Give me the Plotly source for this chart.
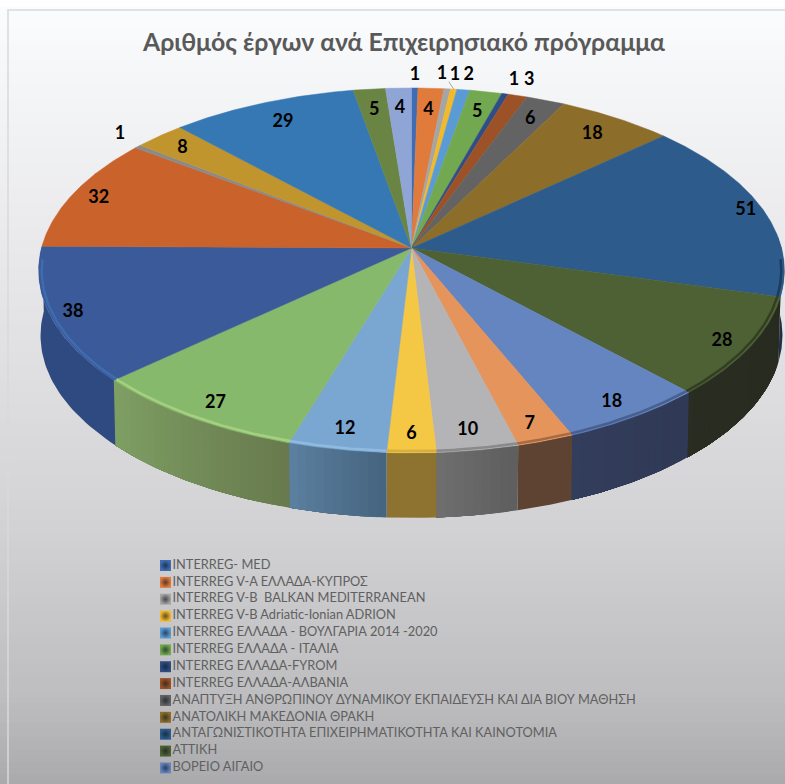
import numpy as np
import plotly.graph_objects as go

# data
values = [1, 4, 1, 1, 2, 5, 1, 3, 6, 18, 51, 28, 18, 7, 10, 6, 12, 27, 38, 32, 1, 8, 29, 5, 4]
legend_names = [
    'INTERREG- MED',
    'INTERREG V-A ΕΛΛΑΔΑ-ΚΥΠΡΟΣ',
    'INTERREG V-B  BALKAN MEDITERRANEAN',
    'INTERREG V-B Adriatic-Ionian ADRION',
    'INTERREG ΕΛΛΑΔΑ - ΒΟΥΛΓΑΡΙΑ 2014 -2020',
    'INTERREG ΕΛΛΑΔΑ - ΙΤΑΛΙΑ',
    'INTERREG ΕΛΛΑΔΑ-FYROM',
    'INTERREG ΕΛΛΑΔΑ-ΑΛΒΑΝΙΑ',
    'ΑΝΑΠΤΥΞΗ ΑΝΘΡΩΠΙΝΟΥ ΔΥΝΑΜΙΚΟΥ ΕΚΠΑΙΔΕΥΣΗ ΚΑΙ ΔΙΑ ΒΙΟΥ ΜΑΘΗΣΗ',
    'ΑΝΑΤΟΛΙΚΗ ΜΑΚΕΔΟΝΙΑ ΘΡΑΚΗ',
    'ΑΝΤΑΓΩΝΙΣΤΙΚΟΤΗΤΑ ΕΠΙΧΕΙΡΗΜΑΤΙΚΟΤΗΤΑ ΚΑΙ ΚΑΙΝΟΤΟΜΙΑ',
    'ΑΤΤΙΚΗ',
    'ΒΟΡΕΙΟ ΑΙΓΑΙΟ',
]
title = 'Αριθμός έργων ανά Επιχειρησιακό πρόγραμμα'

# styles, one per slice
top_colors = ['#3f6db5', '#e07b3c', '#a5a5a5', '#f2b92b', '#5b9bd5', '#72a84f', '#2f4d86', '#9c5226',
              '#636363', '#8c6d2a', '#2d5c8c', '#4e6135', '#6585c0', '#e5945c', '#b4b4b6', '#f4c745',
              '#7aa6d2', '#87b96c', '#3a5a99', '#ca622b', '#8a8a8a', '#c0952d', '#3578b4', '#698443', '#8ea5d5']
# side wall colours as (start, end) going clockwise
side_colors = {10: ('#1f3045', '#1f3045'), 11: ('#282b20', '#2a2d22'), 12: ('#303a56', '#333e5c'),
               13: ('#5e4332', '#5e4332'), 14: ('#5f5f5f', '#6e6e6e'), 15: ('#8e7230', '#8e7230'),
               16: ('#466580', '#5a7f9f'), 17: ('#697b4e', '#7e9f64'), 18: ('#2f4a80', '#2f4a80')}
rim_colors = {10: '#1d3b5a', 11: '#333f22', 12: '#47608f', 13: '#a86a42', 14: '#8a8a8c', 15: '#d8ae3c',
              16: '#8fbbe0', 17: '#a5d080', 18: '#3f6cb0'}
label_r = [1.10, .863, 1.115, 1.115, 1.115, .87, 1.109, 1.123, .875, .874, .955, .923, .917, .914, .904,
           .91, .906, .912, .939, .925, 1.15, .902, .87, .868, .875]
label_dx = [0, 0, -9, -3, 0, 0, 0, 0, 0, 0, 0, 0, -3, -3, -3, 0, 0, 3, 0, 0, 20, 0, 3, 0, 0]

# pie geometry in pixels
cx, cy = 411.5, 248
rx, ry = 370, 179.7
persp = 0.123
depth = 65
W, H = 785, 784


def project(frac, r=1.0):
    # frac is the share of the circle, clockwise from the top
    theta = 2 * np.pi * np.asarray(frac, dtype=float)
    u = r * np.sin(theta)
    v = -r * np.cos(theta)
    w = 1 - persp * v
    return cx + rx * u / w, cy + ry * v / w


def hex2rgb(c):
    return np.array([int(c[i:i + 2], 16) for i in (1, 3, 5)], dtype=float)


def mix(c1, c2, t):
    a = hex2rgb(c1) * (1 - t) + hex2rgb(c2) * t
    return 'rgb(%d,%d,%d)' % tuple(a)


total = sum(values)
cum = np.concatenate([[0], np.cumsum(values)]) / total

fig = go.Figure()

# background gradient
bg_y = np.linspace(10, H, 120)
fig.add_trace(go.Heatmap(
    x=[8, W], y=bg_y, z=[[yy, yy] for yy in bg_y], zmin=10, zmax=H, showscale=False, hoverinfo='skip',
    colorscale=[[0, '#fbfcfd'], [0.07, '#f6f7f9'], [0.31, '#e9e9eb'], [0.67, '#d2d2d4'], [0.89, '#bdbdbf'], [1, '#aaaaac']],
))
fig.add_trace(go.Scatter(x=[8, 8, W], y=[H, 10, 10], mode='lines', line=dict(color='#d9d9d9', width=1.5),
                         hoverinfo='skip'))

# side walls, each strip runs on under the next one so no seams show
for i, (start, end) in side_colors.items():
    a = max(cum[i], 0.24)
    b = min(cum[i + 1], 0.76)
    n = 1 if start == end else max(int((b - a) * 300), 2)
    edges = np.linspace(a, b, n + 1)
    for j in range(n):
        f = np.linspace(edges[j], b, 40)
        x, y = project(f)
        xb = cx + (x - cx) * 0.995
        yb = y + depth
        col = mix(start, end, j / max(n - 1, 1))
        fig.add_trace(go.Scatter(x=np.r_[x, xb[::-1]], y=np.r_[y, yb[::-1]], mode='lines', fill='toself',
                                 fillcolor=col, line=dict(width=0), hoverinfo='skip'))

# top surface
for i in range(len(values)):
    f = np.linspace(cum[i], cum[i + 1], max(int(values[i] * 4), 6))
    x, y = project(f)
    fig.add_trace(go.Scatter(x=np.r_[cx, x, cx], y=np.r_[cy, y, cy], mode='lines', fill='toself',
                             fillcolor=top_colors[i], line=dict(color=top_colors[i], width=0.5), hoverinfo='skip'))

# bevel along the front rim
for i, col in rim_colors.items():
    f = np.linspace(max(cum[i], 0.26), min(cum[i + 1], 0.74), 40)
    x, y = project(f, 0.992)
    fig.add_trace(go.Scatter(x=x, y=y, mode='lines', line=dict(color=col, width=2.5), hoverinfo='skip'))

# value labels
mids = (cum[:-1] + cum[1:]) / 2
lx, ly = project(mids, np.array(label_r))
fig.add_trace(go.Scatter(x=lx + np.array(label_dx), y=ly + 2, mode='text', text=[str(v) for v in values],
                         textposition='middle center', hoverinfo='skip',
                         textfont=dict(family='Lato, Open Sans', size=18, color='black', weight='bold')))

# leader line of the small slices
x0, y0 = project(mids[2], 1.05)
x1, y1 = project(mids[3], 1.0)
fig.add_trace(go.Scatter(x=[x0, x1], y=[y0, y1], mode='lines', line=dict(color='#a6a6a6', width=1), hoverinfo='skip'))

# legend, cut short as in the picture
rows = 565.5 + 16.87 * np.arange(len(legend_names))
row_colors = top_colors[:len(legend_names)]
fig.add_trace(go.Scatter(x=[165.5] * len(legend_names), y=rows, mode='markers', hoverinfo='skip',
                         marker=dict(symbol='square', size=11, color=row_colors, line=dict(width=0),
                                     gradient=dict(type='radial', color=[mix(c, '#101820', 0.65) for c in row_colors]))))
fig.add_trace(go.Scatter(x=[172.5] * len(legend_names), y=rows, mode='text', text=legend_names,
                         textposition='middle right', hoverinfo='skip',
                         textfont=dict(family='Lato, Open Sans', size=12.8, color='#606060')))

fig.update_layout(
    width=W, height=H, autosize=False,
    margin=dict(l=0, r=0, t=0, b=0),
    showlegend=False,
    paper_bgcolor='white', plot_bgcolor='white',
    title=dict(text=title, x=404 / W, y=1 - 42 / H, xanchor='center', yanchor='middle',
               font=dict(family='Lato, Open Sans', size=24.8, color='#595959', weight='bold')),
    xaxis=dict(range=[0, W], visible=False, fixedrange=True),
    yaxis=dict(range=[H, 0], visible=False, fixedrange=True),
)

fig.write_html("out.html", config=dict(displayModeBar=False),
               post_script="document.body.style.margin='0';document.body.style.overflow='hidden';")
